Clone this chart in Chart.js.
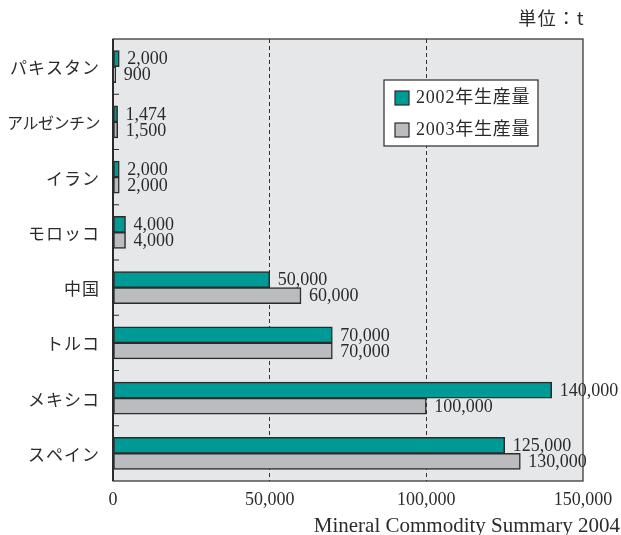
<!DOCTYPE html>
<html>
<head>
<meta charset="utf-8">
<script src="https://cdn.jsdelivr.net/npm/chart.js@4/dist/chart.umd.min.js"></script>
<style>
  html, body { margin: 0; padding: 0; background: #fff; }
  #wrap { width: 621px; height: 535px; }
</style>
</head>
<body>
<div id="wrap"><canvas id="mineChart" width="621" height="535"></canvas></div>
<script>
const countries = ["パキスタン", "アルゼンチン", "イラン", "モロッコ", "中国", "トルコ", "メキシコ", "スペイン"];
const prod2002 = [2000, 1474, 2000, 4000, 50000, 70000, 140000, 125000];
const prod2003 = [900, 1500, 2000, 4000, 60000, 70000, 100000, 130000];
const seriesNames = ["2002年生産量", "2003年生産量"];
const xTicks = [0, 50000, 100000, 150000];

const serif = "'Liberation Serif', 'Noto Sans CJK JP', serif";
const jp = "'Noto Sans CJK JP', sans-serif";
const ink = "#2b2b2b";

// plot background, frame, inner ticks, category names, value labels, legend, notes
const decorations = {
    id: "decorations",
    beforeDraw(chart) {
        const a = chart.chartArea;
        const ctx = chart.ctx;
        ctx.save();
        ctx.fillStyle = "#e6e7e8";
        ctx.fillRect(a.left, a.top, a.right - a.left, a.bottom - a.top);
        ctx.restore();
    },
    afterDatasetsDraw(chart) {
        const a = chart.chartArea;
        const ctx = chart.ctx;
        const y = chart.scales.y;
        ctx.save();

        // frame
        ctx.strokeStyle = ink;
        ctx.lineWidth = 1.2;
        ctx.strokeRect(a.left, a.top, a.right - a.left, a.bottom - a.top);
        ctx.lineWidth = 2;
        ctx.beginPath();
        ctx.moveTo(a.left, a.top);
        ctx.lineTo(a.left, a.bottom);
        ctx.stroke();

        // small ticks between categories
        ctx.lineWidth = 1;
        for (let i = 0; i < countries.length - 1; i++) {
            const py = (y.getPixelForValue(i) + y.getPixelForValue(i + 1)) / 2;
            ctx.beginPath();
            ctx.moveTo(a.left, py);
            ctx.lineTo(a.left + 6, py);
            ctx.stroke();
        }

        // category names (spaced like the print)
        ctx.fillStyle = ink;
        ctx.textBaseline = "middle";
        ctx.textAlign = "right";
        countries.forEach((name, i) => {
            const long = name.length > 5;
            ctx.font = (long ? "16px " : "17px ") + jp;
            ctx.letterSpacing = long ? "-0.5px" : "1px";
            ctx.fillText(name, a.left - 13, y.getPixelForValue(i) + 1);
        });
        ctx.letterSpacing = "0px";

        // value labels
        ctx.font = "18px " + serif;
        ctx.textAlign = "left";
        chart.data.datasets.forEach((ds, di) => {
            chart.getDatasetMeta(di).data.forEach((bar, i) => {
                ctx.fillText(ds.data[i].toLocaleString("en-US"), bar.x + 8, bar.y + 1);
            });
        });

        // legend box
        const lx = 384, ly = 80, lw = 154, lh = 66;
        ctx.fillStyle = "#ffffff";
        ctx.fillRect(lx, ly, lw, lh);
        ctx.strokeStyle = ink;
        ctx.lineWidth = 1.2;
        ctx.strokeRect(lx, ly, lw, lh);
        ctx.font = "18px " + serif;
        ctx.letterSpacing = "0.8px";
        chart.data.datasets.forEach((ds, di) => {
            const sy = ly + 11 + di * 32;
            ctx.fillStyle = ds.backgroundColor;
            ctx.fillRect(lx + 11, sy, 14, 14);
            ctx.strokeRect(lx + 11, sy, 14, 14);
            ctx.fillStyle = ink;
            ctx.fillText(ds.label, lx + 32, sy + 7);
        });

        // unit and source notes
        ctx.textAlign = "right";
        ctx.font = "18px " + jp;
        ctx.letterSpacing = "1.5px";
        ctx.fillText("単位：t", 585, 18);
        ctx.letterSpacing = "0px";
        ctx.textBaseline = "alphabetic";
        ctx.font = "21px " + serif;
        ctx.fillText("Mineral Commodity Summary 2004", 620, 532);
        ctx.restore();
    }
};

new Chart(document.getElementById("mineChart"), {
    type: "bar",
    data: {
        labels: countries,
        datasets: [
            {
                label: seriesNames[0],
                data: prod2002,
                backgroundColor: "#009a96",
                borderColor: ink,
                borderWidth: 1.5,
                borderSkipped: false,
                barThickness: 16
            },
            {
                label: seriesNames[1],
                data: prod2003,
                backgroundColor: "#bbbcc0",
                borderColor: ink,
                borderWidth: 1.5,
                borderSkipped: false,
                barThickness: 16
            }
        ]
    },
    options: {
        indexAxis: "y",
        responsive: false,
        animation: false,
        layout: { padding: { top: 39, right: 38, bottom: 0, left: 0 } },
        plugins: {
            legend: { display: false },
            tooltip: { enabled: false }
        },
        scales: {
            x: {
                min: 0,
                max: 150000,
                afterBuildTicks(scale) {
                    scale.ticks = xTicks.map(v => ({ value: v }));
                },
                afterFit(scale) { scale.height = 54; },
                grid: {
                    drawTicks: false,
                    color: ctx => (ctx.tick && (ctx.tick.value === 0 || ctx.tick.value === 150000)) ? "rgba(0,0,0,0)" : "#333",
                    lineWidth: 1
                },
                border: { display: false, dash: [4, 3] },
                ticks: {
                    padding: 8,
                    color: ink,
                    font: { family: serif, size: 18 },
                    callback: v => v.toLocaleString("en-US")
                }
            },
            y: {
                afterFit(scale) { scale.width = 113; },
                grid: { display: false, drawTicks: false },
                border: { display: false },
                ticks: { display: false }
            }
        }
    },
    plugins: [decorations]
});
</script>
</body>
</html>
